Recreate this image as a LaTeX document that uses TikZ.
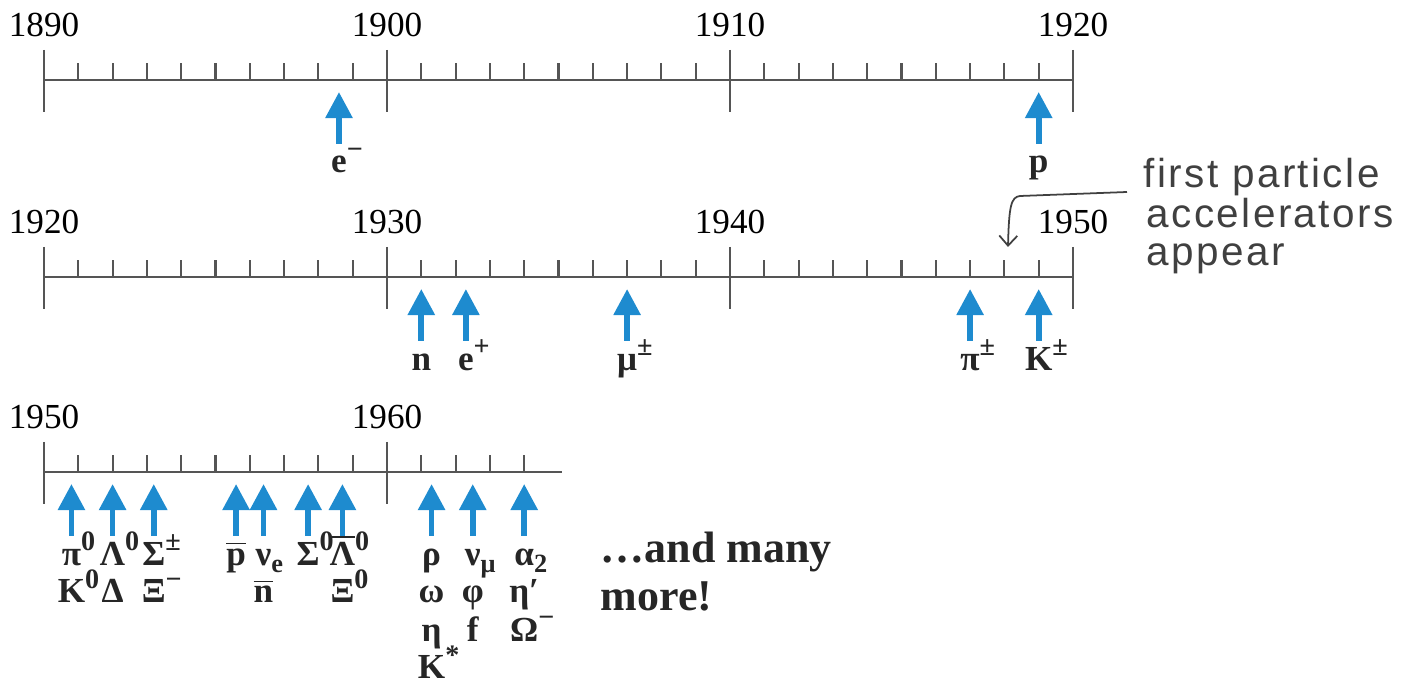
\documentclass[tikz,border=0pt]{standalone}
\usepackage{fontspec}
\setmainfont{Liberation Serif}
\newfontfamily\handfont[LetterSpace=6]{Liberation Sans}
\usepackage{tikz}
\usetikzlibrary{arrows.meta}
\definecolor{partblue}{HTML}{1E8BCF}
\definecolor{axisgray}{HTML}{555555}
\newcommand{\upr}[1]{\rlap{\raisebox{0.42em}{\fontsize{8}{9}\selectfont #1}}}
\newcommand{\dnr}[1]{\rlap{\raisebox{-0.22em}{\fontsize{7.5}{9}\selectfont #1}}}
\newcommand{\ovl}[1]{$\overline{\hbox{#1}}$}

\begin{document}
\begin{tikzpicture}[x=0.01cm,y=-0.01cm,
  axisline/.style={axisgray,line width=0.6pt},
  partarrow/.style={partblue,line width=1.6pt,-{Triangle[length=0.26cm,width=0.26cm]}},
  yearlabel/.style={font=\fontsize{10}{12}\selectfont,inner sep=0pt},
  partlabel/.style={font=\fontsize{10}{12}\selectfont\bfseries,inner sep=0pt,anchor=base,text=black!85},
  handnote/.style={font=\handfont\fontsize{11.5}{13}\selectfont,inner sep=0pt,anchor=base west,text=black!75},
  notearrow/.style={black!75,line width=0.5pt,-{Straight Barb[length=0.1cm,width=0.18cm]}}]
  \useasboundingbox (0,0) rectangle (1405,688);
  \def\yr{34.3}
  % full decades rows
  \foreach \row/\ay/\start in {top/80/1890, mid/277/1920}{
    \draw[axisline] (44,\ay) -- (1073,\ay);
    \foreach \k in {1,...,29}{\draw[axisline] ({44+\k*\yr},\ay) -- ++(0,-17);}
    \foreach \d in {0,...,3}{
      \draw[axisline] ({44+\d*10*\yr},{\ay-30}) -- ++(0,62);
      \pgfmathtruncatemacro\lab{\start+10*\d}
      \node[yearlabel] (\row-\lab) at ({44+\d*10*\yr},{\ay-55}) {\lab};
    }
  }
  % last row, cut off after 1964
  \draw[axisline] (44,472) -- (562,472);
  \foreach \k in {1,...,14}{\draw[axisline] ({44+\k*\yr},472) -- ++(0,-17);}
  \foreach \d/\lab in {0/1950,1/1960}{
    \draw[axisline] ({44+\d*10*\yr},442) -- ++(0,62);
    \node[yearlabel] (bot-\lab) at ({44+\d*10*\yr},417) {\lab};
  }
  % discoveries: name / axis y / years after row start / label lines
  \foreach \name/\ay/\off/\lines in {
      em/80/8.6/{{e\upr{−}}}, p/80/29/{p},
      n/277/11/{n}, ep/277/12.3/{{e\upr{+}}}, mu/277/17/{{μ\upr{±}}},
      pi/277/27/{{π\upr{±}}}, K/277/29/{{K\upr{±}}},
      pizero/472/0.8/{{π\upr{0}},{K\upr{0}}}, lam/472/2.0/{{Λ\upr{0}},Δ},
      sig/472/3.2/{{Σ\upr{±}},{Ξ\upr{−}}}, pbar/472/5.6/{{\ovl{p}}},
      nue/472/6.4/{{ν\dnr{e}},{\ovl{n}}}, sigzero/472/7.7/{{Σ\upr{0}}},
      lambar/472/8.7/{{\ovl{Λ}\upr{0}},{Ξ\upr{0}}},
      rho/472/11.3/{ρ,ω,η,{K\upr{*}}}, numu/472/12.5/{{ν\dnr{μ}},φ,f},
      alpha/472/14.0/{{α\dnr{2}},η′,{Ω\upr{−}}}}{
    \coordinate (\name-tip) at ({44+\off*\yr},{\ay+12});
    \coordinate (\name-tail) at ({44+\off*\yr},{\ay+64});
    \draw[partarrow] (\name-tail) -- (\name-tip);
    \foreach \txt [count=\k] in \lines{
      \node[partlabel] (\name-\k) at ({44+\off*\yr},{\ay+93+(\k-1)*38}) {\txt};
    }
  }
  \node[font=\fontsize{12.5}{13.7}\selectfont\bfseries,text=black!85,inner sep=0pt,
    anchor=north west,align=left] (more) at (600,531) {…and many\\more!};
  % handwritten remark
  \node[handnote] (note-1) at (1143,188) {first particle};
  \node[handnote] (note-2) at (1146,228) {accelerators};
  \node[handnote] (note-3) at (1146,266) {appear};
  \coordinate (note-start) at (1127,192);
  \coordinate (note-tip) at (1008,247);
  \draw[notearrow] (note-start) -- (1020,196) .. controls (1011,197) and (1009,206) .. (note-tip);
\end{tikzpicture}
\end{document}
